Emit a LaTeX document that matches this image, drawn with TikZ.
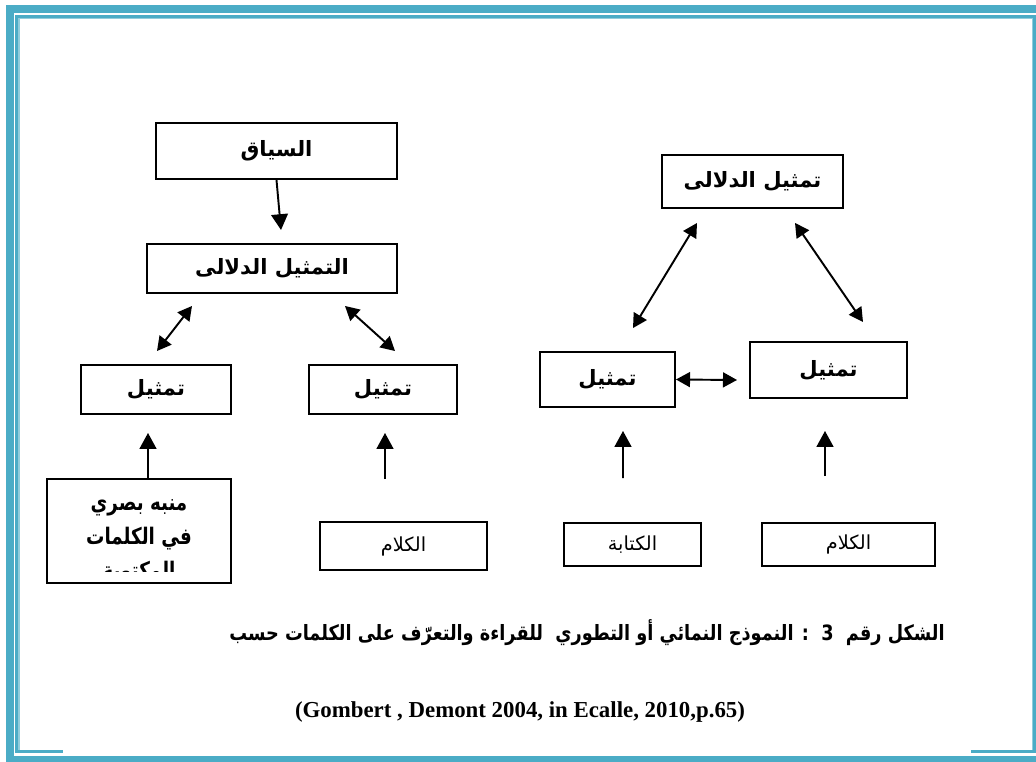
\documentclass[tikz,border=0pt]{standalone}
\usepackage{fontspec}
\usepackage{graphicx}
\usepackage{tikz}
\usetikzlibrary{arrows.meta,calc}
\setmainfont{Liberation Serif}
\newfontfamily\arabicfont[Script=Arabic]{DejaVu Sans}
\TeXXeTstate=1
\newcommand{\artext}[1]{{\arabicfont\beginR #1\endR}}
\definecolor{frameteal}{RGB}{75,172,198}
\definecolor{framelight}{RGB}{146,205,220}
\tikzset{
  block/.style={rectangle, draw=black, line width=1.1pt, fill=white, align=center,
                inner sep=2pt, font=\bfseries\fontsize{12}{14}\selectfont},
  blockplain/.style={block, font=\fontsize{11}{13}\selectfont},
  arrow/.style={-{Triangle[length=9pt,width=9.5pt]}, line width=1.1pt},
  darrow/.style={{Triangle[length=8pt,width=8.5pt]}-{Triangle[length=8pt,width=8.5pt]}, line width=1.1pt},
}

\begin{document}
\begin{tikzpicture}[x=0.2mm, y=-0.2mm]
\useasboundingbox (0,0) rectangle (1036,762);

% ---- page frame ----
\fill[frameteal] (6,5) rectangle (1036,13);
\fill[frameteal] (6,5) rectangle (14,762);
\fill[frameteal] (6,756) rectangle (1036,762);
\fill[frameteal] (15,15) rectangle (1036,18);
\fill[frameteal] (15,15) rectangle (18,753);
\fill[frameteal] (1033,15) rectangle (1036,753);
\fill[frameteal] (15,750) rectangle (63,753);
\fill[frameteal] (971,750) rectangle (1036,753);
\fill[framelight] (18,18) rectangle (1033,19.5);
\fill[framelight] (18,18) rectangle (19.5,750);
\fill[framelight] (1031.5,18) rectangle (1033,750);

% ---- left model ----
\node[block, minimum width=48.2mm, minimum height=11.2mm] (siyaq) at (276.5,151) {\artext{السياق}};
\node[block, minimum width=50mm, minimum height=9.8mm] (dalali) at (272,268.5) {\artext{التمثيل الدلالى}};
\node[block, minimum width=30mm, minimum height=9.8mm] (tamthilA) at (156,389.5) {\artext{تمثيل}};
\node[block, minimum width=29.6mm, minimum height=9.8mm] (tamthilB) at (383,389.5) {\artext{تمثيل}};
\node[block, minimum width=36.8mm, minimum height=20.8mm] (munabbih) at (139,531) {};
\begin{scope}
  \clip (49,481) rectangle (229,571);
  \node[align=center, font=\bfseries\fontsize{13}{19.3}\selectfont] (munabbihtext) at (139,542)
    {\scalebox{0.8}[1]{\artext{منبه بصري}}\\ \scalebox{0.8}[1]{\artext{في الكلمات}}\\ \scalebox{0.8}[1]{\artext{المكتوبة}}};
\end{scope}
\node[blockplain, minimum width=33.4mm, minimum height=9.6mm] (kalamA) at (403.5,546) {\artext{الكلام}};

% ---- right model ----
\node[block, minimum width=36.2mm, minimum height=10.6mm] (dalaliR) at (752.5,181.5) {\artext{تمثيل الدلالى}};
\node[block, minimum width=27mm, minimum height=11mm] (tamthilC) at (607.5,379.5) {\artext{تمثيل}};
\node[block, minimum width=31.4mm, minimum height=11.2mm] (tamthilD) at (828.5,370) {\artext{تمثيل}};
\node[blockplain, minimum width=27.4mm, minimum height=8.6mm] (kitaba) at (632.5,544.5) {\artext{الكتابة}};
\node[blockplain, minimum width=34.6mm, minimum height=8.6mm] (kalamB) at (848.5,544.5) {\artext{الكلام}};

% ---- captions ----
\node[font=\bfseries\fontsize{12}{14}\selectfont] (caption) at (587,633)
  {\scalebox{0.84}[1]{\artext{الشكل رقم~ 3~ : النموذج النمائي أو التطوري~ للقراءة والتعرّف على الكلمات حسب}}};
\node[font=\bfseries\fontsize{13}{15}\selectfont] (source) at (520,712)
  {(Gombert , Demont 2004, in Ecalle, 2010,p.65)};

% ---- arrows ----
\draw[arrow] (siyaq.south) -- ($(dalali.north)+(9,-13)$);
\draw[darrow] ($(dalali.south)+(-80,12)$) -- ($(tamthilA.north)+(1,-13)$);
\draw[darrow] ($(dalali.south)+(73,12)$) -- ($(tamthilB.north)+(12,-13)$);
\draw[arrow] ($(munabbih.north)+(9,0)$) -- ($(tamthilA.south)+(-8,18)$);
\draw[arrow] ($(kalamA.north)+(-18.5,-42)$) -- ($(tamthilB.south)+(2,18)$);
\draw[darrow] ($(dalaliR.south)+(-55.5,14)$) -- ($(tamthilC.north)+(25.5,-23)$);
\draw[darrow] ($(dalaliR.south)+(42.5,14)$) -- ($(tamthilD.north)+(34.5,-19)$);
\draw[darrow] (tamthilC.east) -- ($(tamthilD.west)+(-12,10)$);
\draw[arrow] ($(kitaba.north)+(-9.5,-44)$) -- ($(tamthilC.south)+(15.5,23)$);
\draw[arrow] ($(kalamB.north)+(-23.5,-46)$) -- ($(tamthilD.south)+(-3.5,32)$);
\end{tikzpicture}
\end{document}
